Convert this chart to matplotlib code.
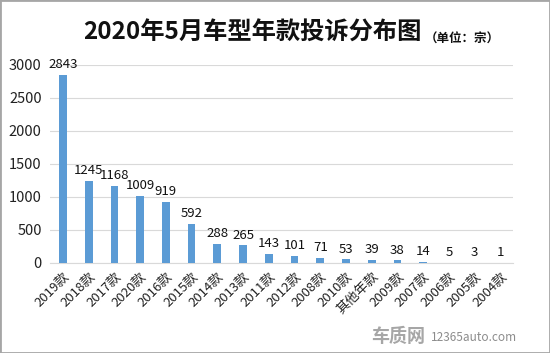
import matplotlib
matplotlib.use("Agg")
import matplotlib.pyplot as plt
from matplotlib.patches import Rectangle

plt.rcParams['font.family'] = ['Noto Sans CJK SC', 'DejaVu Sans']

categories = ["2019款", "2018款", "2017款", "2020款", "2016款", "2015款", "2014款", "2013款",
              "2011款", "2012款", "2008款", "2010款", "其他年款", "2009款", "2007款", "2006款",
              "2005款", "2004款"]
values = [2843, 1245, 1168, 1009, 919, 592, 288, 265, 143, 101, 71, 53, 39, 38, 14, 5, 3, 1]
yticks = [0, 500, 1000, 1500, 2000, 2500, 3000]

fig = plt.figure(figsize=(5.5, 3.53), dpi=100)
ax = fig.add_axes([0.091, 0.255, 0.842, 0.561])

x = list(range(len(categories)))
ax.bar(x, values, width=0.3, color="#5B9BD5", zorder=3)
for xi, v in zip(x, values):
    ax.text(xi, v + 60, str(v), ha="center", va="bottom", fontsize=9.5, color="#111111")

ax.set_xlim(-0.5, len(categories) - 0.5)
ax.set_ylim(0, 3000)
ax.set_yticks(yticks)
ax.set_yticklabels([str(t) for t in yticks], fontsize=10.5, color="#222222")
ax.set_xticks(x)
ax.set_xticklabels(categories, rotation=45, ha="right", rotation_mode="anchor", fontsize=9.5, color="#222222")
ax.tick_params(axis="both", length=0)
ax.tick_params(axis="x", pad=5)
ax.tick_params(axis="y", pad=6)
ax.grid(axis="y", color="#D9D9D9", linewidth=0.8, zorder=0)
for s in ["top", "right", "left"]:
    ax.spines[s].set_visible(False)
ax.spines["bottom"].set_color("#D9D9D9")

fig.text(0.458, 0.907, "2020年5月车型年款投诉分布图", ha="center", va="center",
         fontsize=17.5, fontweight="heavy", color="#111111")
fig.text(0.84, 0.89, "（单位：宗）", ha="center", va="center", fontsize=9, fontweight="bold", color="#111111")

fig.text(0.675, 0.048, "车质网", ha="left", va="center", fontsize=13, fontweight="heavy", color="#A6A6A6")
fig.text(0.94, 0.045, "12365auto.com", ha="right", va="center", fontsize=8.5, color="#8C8C8C")

fig.patches.append(Rectangle((0, 0), 1, 1, transform=fig.transFigure, fill=False,
                             edgecolor="#A6A6A6", linewidth=2))

fig.savefig("out.png", dpi=100)
